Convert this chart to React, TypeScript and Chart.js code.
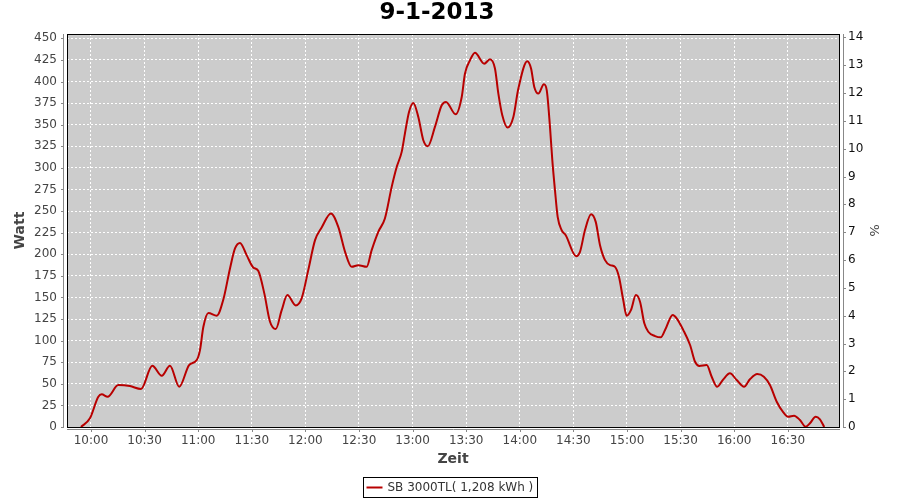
import { useEffect, useRef } from "react";
import { Chart, registerables } from "chart.js";

Chart.register(...registerables);

// Time of each reading, in minutes after midnight (9:54 ... 16:50)
const timeMinutes = [
  594.4, 599.4, 604.1, 606.0, 609.3, 615.3, 621.8, 628.0, 634.3, 639.6,
  644.2, 649.4, 654.9, 659.2, 661.0, 662.9, 665.7, 670.4, 674.0, 677.8,
  680.6, 683.4, 687.1, 690.8, 693.6, 697.0, 700.2, 703.4, 706.7, 709.9,
  714.6, 717.9, 721.6, 725.4, 729.1, 734.3, 738.4, 742.2, 745.9, 749.6,
  754.3, 757.1, 760.8, 764.5, 768.3, 771.1, 773.9, 775.7, 778.0, 780.4,
  783.2, 786.0, 788.5, 792.5, 796.3, 798.7, 804.1, 807.5, 809.3, 812.1,
  814.9, 820.1, 823.3, 826.1, 828.0, 830.2, 833.2, 836.4, 839.2, 844.2,
  846.3, 848.1, 850.4, 853.5, 855.1, 856.9, 858.2, 859.7, 861.2, 863.4,
  865.7, 871.5, 873.7, 876.5, 879.9, 882.5, 884.9, 887.7, 890.5, 893.3,
  895.5, 897.9, 899.8, 902.2, 905.0, 907.3, 909.7, 911.9, 915.7, 918.9,
  921.3, 925.6, 927.8, 931.5, 935.3, 938.1, 940.5, 944.6, 947.4, 950.5,
  953.9, 957.6, 961.4, 965.5, 968.8, 972.9, 976.6, 980.0, 983.8, 987.5,
  990.2, 993.5, 996.8, 1000.0, 1002.4, 1005.6, 1008.0, 1010.4,
];

// Power in Watt
const watts = [
  0, 10, 35, 37.8, 35, 48.6, 47.4, 44, 71, 59.4,
  71, 46.6, 71.7, 77.5, 89, 116, 132, 128.8, 147, 183.6,
  206.7, 213, 199, 184.7, 180.8, 154.7, 121.8, 113.4, 135, 152.7,
  140.8, 148.9, 181.6, 216.3, 231, 247.2, 231.7, 202.8, 185.4, 187.4,
  185.4, 204.8, 226, 241.4, 278, 301, 318.5, 339.7, 364.8, 375.2,
  359, 332, 325, 347.4, 372.5, 376.3, 362, 382, 409, 424.5,
  433.4, 420.7, 425.7, 415, 386, 361, 346.7, 359, 391.8, 423.4,
  415, 393.7, 386, 396.8, 389.8, 347.4, 308.9, 274, 243.3, 227.9,
  222, 197.8, 202.8, 228, 246.4, 237.5, 210.5, 193.2, 187.4, 185.4,
  173.9, 147, 128.8, 135.3, 152.7, 145, 120, 110.3, 105.3, 103.8,
  112.2, 129.6, 125.7, 112.2, 94.9, 75.5, 70.6, 71.7, 58.2, 46.6,
  55.2, 62.1, 54.4, 46.6, 55.2, 61.3, 58.2, 48.6, 29.3, 17,
  11.9, 13.1, 8.1, 0.3, 4.3, 11.9, 8.9, 0,
];

const xTickLabels = [
  "10:00", "10:30", "11:00", "11:30", "12:00", "12:30", "13:00",
  "13:30", "14:00", "14:30", "15:00", "15:30", "16:00", "16:30",
];

const seriesLabel = "SB 3000TL( 1,208 kWh )";
const chartTitle = "9-1-2013";
const xTitle = "Zeit";
const yTitle = "Watt";
const y2Title = "%";

const X_MIN = 586.57;
const X_MAX = 1018.66;
const Y_MAX = 455;
const Y2_MAX = 14.12;

const toMinutes = (s: string) => {
  const [h, m] = s.split(":").map(Number);
  return h * 60 + m;
};
const fmtTime = (v: number) => {
  const h = Math.floor(v / 60);
  const m = Math.round(v - h * 60);
  return `${h}:${m < 10 ? "0" : ""}${m}`;
};
const xTickValues = xTickLabels.map(toMinutes);

const FONT = '"DejaVu Sans", sans-serif';

const decor = {
  id: "decor",
  beforeDraw(chart: any) {
    const { ctx, chartArea: a } = chart;
    ctx.save();
    ctx.fillStyle = "#ffffff";
    ctx.fillRect(0, 0, chart.width, chart.height);
    ctx.fillStyle = "#cccccc";
    ctx.fillRect(a.left, a.top, a.right - a.left, a.bottom - a.top);
    ctx.restore();
  },
  afterDraw(chart: any) {
    const { ctx, chartArea: a, scales } = chart;
    ctx.save();
    // title
    ctx.fillStyle = "#000000";
    ctx.font = `bold 23px ${FONT}`;
    ctx.textAlign = "center";
    ctx.textBaseline = "middle";
    ctx.fillText(chartTitle, 437, 13.5);

    // plot border
    ctx.strokeStyle = "#000000";
    ctx.lineWidth = 1;
    ctx.strokeRect(a.left + 0.5, a.top + 0.5, a.right - a.left, a.bottom - a.top);

    // axis lines (offset from plot)
    ctx.strokeStyle = "#888888";
    ctx.beginPath();
    const lx = a.left - 3.5;
    ctx.moveTo(lx, a.top);
    ctx.lineTo(lx, a.bottom + 1);
    scales.y.ticks.forEach((t: any) => {
      const py = Math.round(scales.y.getPixelForValue(t.value)) + 0.5;
      ctx.moveTo(lx - 2.5, py);
      ctx.lineTo(lx, py);
    });
    const rx = a.right + 4.5;
    ctx.moveTo(rx, a.top);
    ctx.lineTo(rx, a.bottom + 1);
    scales.y2.ticks.forEach((t: any) => {
      const py = Math.round(scales.y2.getPixelForValue(t.value)) + 0.5;
      ctx.moveTo(rx, py);
      ctx.lineTo(rx + 2.5, py);
    });
    const by = a.bottom + 2.5;
    ctx.moveTo(a.left, by);
    ctx.lineTo(a.right + 1, by);
    scales.x.ticks.forEach((t: any) => {
      const px = Math.round(scales.x.getPixelForValue(t.value)) + 0.5;
      ctx.moveTo(px, by);
      ctx.lineTo(px, by + 2.5);
    });
    ctx.stroke();

    // legend
    const ds = chart.data.datasets[0];
    ctx.font = `12px ${FONT}`;
    const tw = ctx.measureText(ds.label).width;
    const boxW = Math.round(3 + 16 + 5 + tw + 4);
    const bx = Math.round(chart.width / 2 - boxW / 2) + 0.5;
    const byy = 477.5;
    const bh = 20;
    ctx.fillStyle = "#ffffff";
    ctx.fillRect(bx, byy, boxW, bh);
    ctx.strokeStyle = "#000000";
    ctx.lineWidth = 1;
    ctx.strokeRect(bx, byy, boxW, bh);
    ctx.strokeStyle = ds.borderColor;
    ctx.lineWidth = 2;
    ctx.beginPath();
    ctx.moveTo(bx + 3, byy + 10);
    ctx.lineTo(bx + 19, byy + 10);
    ctx.stroke();
    ctx.fillStyle = "#333333";
    ctx.textBaseline = "middle";
    ctx.textAlign = "left";
    ctx.fillText(ds.label, bx + 24, byy + 10.5);
    ctx.restore();
  },
};

export default function App() {
  const ref = useRef<HTMLCanvasElement | null>(null);

  useEffect(() => {
    document.body.style.margin = "0";
    if (!ref.current) return;
    Chart.defaults.font.family = FONT;
    const chart = new Chart(ref.current, {
      type: "line",
      data: {
        datasets: [
          {
            label: seriesLabel,
            data: timeMinutes.map((t, i) => ({ x: t, y: watts[i] })),
            borderColor: "#b80000",
            borderWidth: 2,
            pointRadius: 0,
            fill: false,
            cubicInterpolationMode: "monotone",
            clip: false as any,
            yAxisID: "y",
          },
        ],
      },
      options: {
        responsive: false,
        animation: false,
        layout: { padding: { top: 34 } },
        plugins: {
          legend: { display: false },
          tooltip: { enabled: false },
          title: { display: false },
        },
        scales: {
          x: {
            type: "linear",
            min: X_MIN,
            max: X_MAX,
            afterBuildTicks: (s: any) => {
              s.ticks = xTickValues.map((v) => ({ value: v }));
            },
            afterFit: (s: any) => {
              s.height = 73;
            },
            grid: { color: "#ffffff", lineWidth: 1, drawTicks: false },
            border: { display: false, dash: [2, 2] },
            ticks: {
              padding: 7,
              color: "#444444",
              font: { size: 12 },
              maxRotation: 0,
              autoSkip: false,
              callback: (v: any) => fmtTime(Number(v)),
            },
            title: {
              display: true,
              text: xTitle,
              color: "#444444",
              font: { size: 14, weight: "bold" },
              padding: { top: 0, bottom: 32 },
            },
          },
          y: {
            position: "left",
            min: 0,
            max: Y_MAX,
            afterFit: (s: any) => {
              s.width = 67;
            },
            grid: { color: "#ffffff", lineWidth: 1, drawTicks: false },
            border: { display: false, dash: [2, 2] },
            ticks: {
              stepSize: 25,
              includeBounds: false,
              padding: 10,
              color: "#444444",
              font: { size: 12 },
            },
            title: {
              display: true,
              text: yTitle,
              color: "#444444",
              font: { size: 14, weight: "bold" },
              padding: { top: 12, bottom: 0 },
            },
          },
          y2: {
            position: "right",
            min: 0,
            max: Y2_MAX,
            afterFit: (s: any) => {
              s.width = 61;
            },
            grid: { display: false, drawTicks: false },
            border: { display: false },
            ticks: {
              stepSize: 1,
              includeBounds: false,
              padding: 9,
              color: "#111111",
              font: { size: 12 },
            },
            title: {
              display: true,
              text: y2Title,
              color: "#444444",
              font: { size: 13 },
              padding: { top: 19, bottom: 0 },
            },
          },
        },
      } as any,
      plugins: [decor],
    });
    return () => chart.destroy();
  }, []);

  return (
    <div style={{ width: 900, height: 500 }}>
      <canvas ref={ref} width={900} height={500} style={{ display: "block" }} />
    </div>
  );
}
